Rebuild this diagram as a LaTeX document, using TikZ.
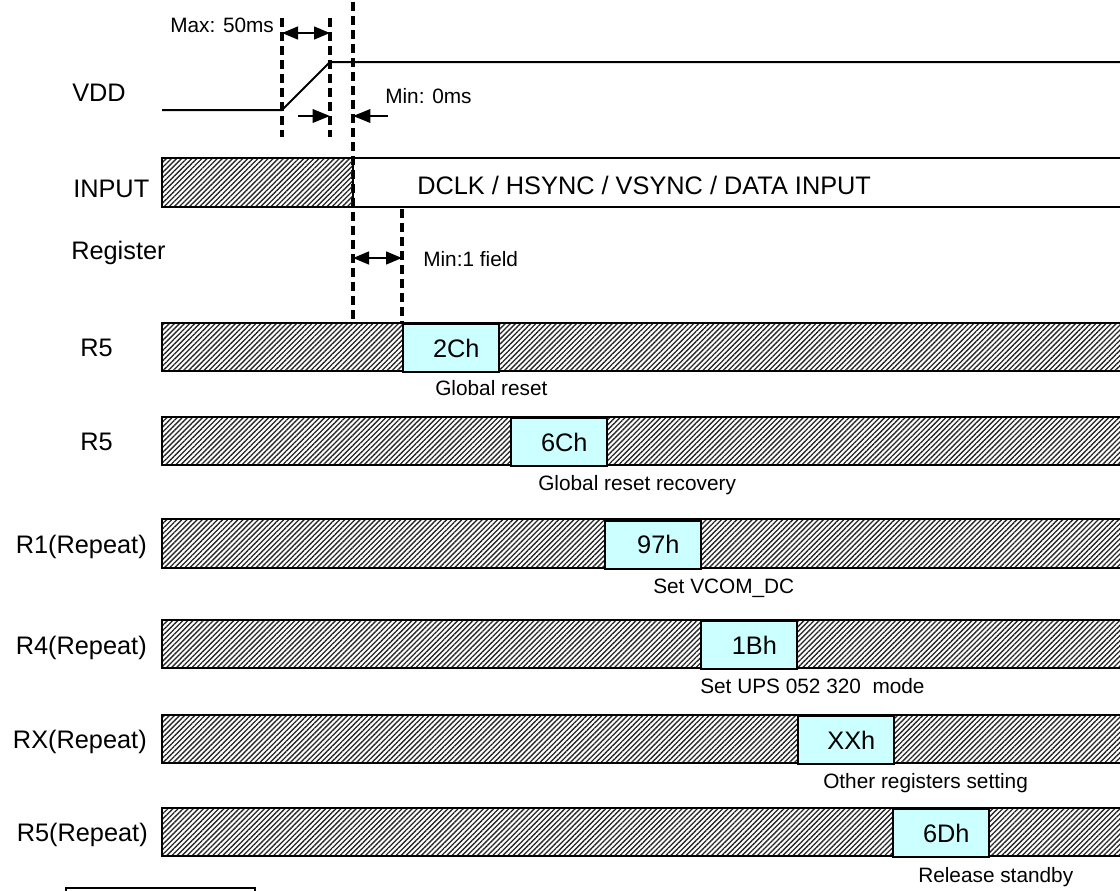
\documentclass[tikz,border=0pt]{standalone}
\usepackage{fontspec}
\setmainfont{Liberation Sans}
\usetikzlibrary{patterns.meta,arrows.meta}
\definecolor{regcyan}{RGB}{204,255,255}
\begin{document}
\begin{tikzpicture}[x=0.75pt,y=-0.75pt,
  lbl/.style={font=\fontsize{19}{22}\selectfont,inner sep=0pt,anchor=base west},
  lble/.style={font=\fontsize{19}{22}\selectfont,inner sep=0pt,anchor=base east},
  small/.style={font=\fontsize{15.6}{18}\selectfont,inner sep=0pt,anchor=base west},
  hatchbar/.style={draw=black,line width=1.5pt,pattern={Lines[angle=45,distance=2.7pt,line width=1pt]},pattern color=black!85},
  regbox/.style={draw=black,line width=1.5pt,fill=regcyan,minimum width=72pt,minimum height=36pt,anchor=north west,inner sep=0pt,font=\fontsize{19}{22}\selectfont},
  sig/.style={line width=1.5pt},
  dline/.style={line width=2.4pt,dash pattern=on 7pt off 3.5pt},
  dimarrow/.style={line width=1.8pt,{Triangle[length=12pt,width=9.5pt]}-{Triangle[length=12pt,width=9.5pt]}},
  onearrow/.style={line width=1.8pt,-{Triangle[length=13pt,width=10pt]}}
]
\useasboundingbox (0,0) rectangle (1120,890);
\clip (0,0) rectangle (1120,890);

% dashed reference lines
\coordinate (d1t) at (282,18);  \coordinate (d1b) at (282,137);
\coordinate (d2t) at (330,18);  \coordinate (d2b) at (330,137);
\coordinate (d3t) at (353,2);   \coordinate (d3b) at (353,322);
\coordinate (d4t) at (402,209); \coordinate (d4b) at (402,322);
\draw[dline] (d1t) -- (d1b);
\draw[dline] (d2t) -- (d2b);
\draw[dline] (d3t) -- (d3b);
\draw[dline] (d4t) -- (d4b);

% VDD
\node[lbl] (vdd) at (72,101) {VDD};
\coordinate (v0) at (162,110);
\coordinate (v1) at (282,110);
\coordinate (v2) at (330,62);
\coordinate (v3) at (1130,62);
\draw[sig] (v0) -- (v1) -- (v2) -- (v3);

\node[small] (maxt) at (170,32) {Max: 50ms};
\coordinate (ma) at (282,33); \coordinate (mb) at (330,33);
\draw[dimarrow] (ma) -- (mb);
\coordinate (ra0) at (298,116); \coordinate (ra1) at (330,116);
\draw[onearrow] (ra0) -- (ra1);
\coordinate (la0) at (388,116); \coordinate (la1) at (353,116);
\draw[onearrow] (la0) -- (la1);
\node[small] (mint) at (385,103) {Min: 0ms};

% INPUT
\node[lbl] (inp) at (73,197) {INPUT};
\draw[hatchbar] (162,158) rectangle (353,207);
\coordinate (i0) at (353,158); \coordinate (i1) at (1130,158);
\coordinate (i2) at (353,207); \coordinate (i3) at (1130,207);
\draw[sig] (i0) -- (i1);
\draw[sig] (i2) -- (i3);
\node[lbl] (dclk) at (417,194) {DCLK / HSYNC / VSYNC / DATA INPUT};

% Register
\node[lbl] (reg) at (71,259) {Register};
\coordinate (fa) at (353,258); \coordinate (fb) at (402,258);
\draw[dimarrow] (fa) -- (fb);
\node[small] (fld) at (423,266) {Min:1 field};

% R5 (1)
\node[lbl] (l1) at (80,356) {R5};
\draw[hatchbar] (162,323) rectangle (1130,371);
\node[regbox] (b1) at (402,323) {\hspace*{8pt}2Ch};
\node[small] (c1) at (435,395) {Global reset};

% R5 (2)
\node[lbl] (l2) at (80,450) {R5};
\draw[hatchbar] (162,417) rectangle (1130,465);
\node[regbox] (b2) at (510,417) {\hspace*{8pt}6Ch};
\node[small] (c2) at (538,490) {Global reset recovery};

% R1
\node[lble] (l3) at (147,553) {R1(Repeat)};
\draw[hatchbar] (162,519) rectangle (1130,568);
\node[regbox] (b3) at (604,519.5) {\hspace*{8pt}97h};
\node[small] (c3) at (653,593) {Set VCOM\_DC};

% R4
\node[lble] (l4) at (147,654) {R4(Repeat)};
\draw[hatchbar] (162,620) rectangle (1130,668);
\node[regbox] (b4) at (700,620) {\hspace*{8pt}1Bh};
\node[small] (c4) at (700,693) {Set UPS 052 320\ \ mode};

% RX
\node[lble] (l5) at (147,748) {RX(Repeat)};
\draw[hatchbar] (162,715) rectangle (1130,763);
\node[regbox] (b5) at (797,715) {\hspace*{8pt}XXh};
\node[small] (c5) at (823,788) {Other registers setting};

% R5 repeat
\node[lble] (l6) at (148,841) {R5(Repeat)};
\draw[hatchbar] (162,808) rectangle (1130,856);
\node[regbox] (b6) at (892,808) {\hspace*{8pt}6Dh};
\node[small] (c6) at (918,882) {Release standby};

% bottom-left box (cut off)
\draw[line width=1.5pt] (66,888) rectangle (255,905);
\end{tikzpicture}
\end{document}
